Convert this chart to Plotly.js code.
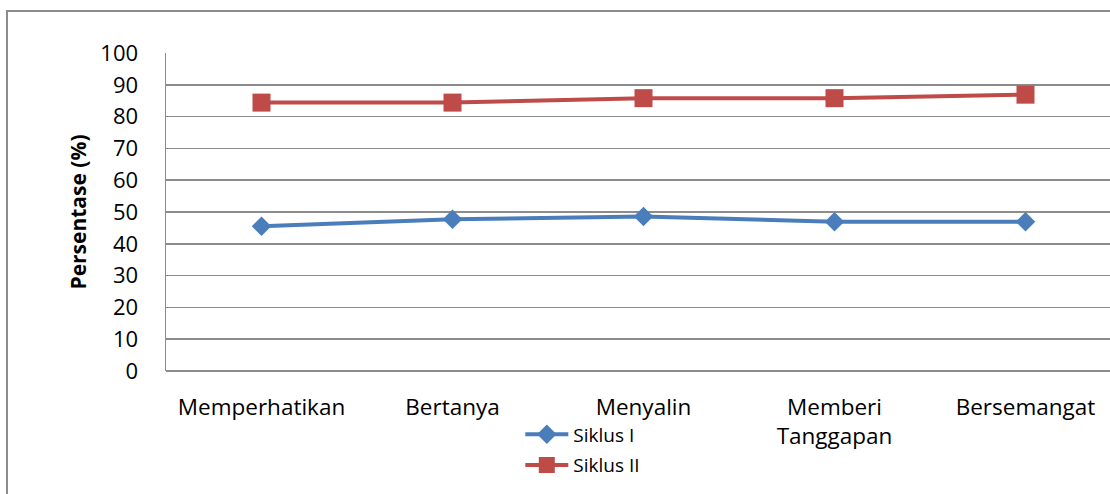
<!DOCTYPE html>
<html>
<head>
<meta charset="utf-8">
<script src="https://cdn.plot.ly/plotly-3.0.1.min.js"></script>
<style>
  html, body { margin: 0; padding: 0; background: #fff; overflow: hidden; width: 1110px; height: 494px; }
  #frame { position: absolute; left: 6px; top: 10px; width: 1200px; height: 600px; border: 2px solid #8c8c8c; box-sizing: border-box; }
  #chart { position: absolute; left: 0; top: 0; width: 1140px; height: 494px; }
</style>
</head>
<body>
<div id="frame"></div>
<div id="chart"></div>
<script>
const categories = ["Memperhatikan", "Bertanya", "Menyalin", "Memberi<br>Tanggapan", "Bersemangat"];
const siklusI = [45.5, 47.7, 48.6, 46.9, 46.9];
const siklusII = [84.4, 84.4, 85.8, 85.8, 86.9];
const yTicks = [0, 10, 20, 30, 40, 50, 60, 70, 80, 90, 100];

const font = "'Open Sans', Lato, 'Liberation Sans', sans-serif";

const traces = [
  {
    x: categories, y: siklusI, name: "Siklus I", type: "scatter", mode: "lines+markers",
    legendgroup: "a",
    line: { color: "#4a7ebb", width: 4 },
    marker: { symbol: "diamond", size: 15, color: "#4a7ebb" }
  },
  {
    x: categories, y: siklusII, name: "Siklus II", type: "scatter", mode: "lines+markers",
    legendgroup: "b",
    line: { color: "#be4b48", width: 4 },
    marker: { symbol: "square", size: 18, color: "#be4b48" }
  }
];

const layout = {
  width: 1140, height: 494,
  margin: { l: 166, r: 19, t: 53, b: 123, autoexpand: false },
  paper_bgcolor: "rgba(0,0,0,0)",
  plot_bgcolor: "#fff",
  font: { family: font, size: 22, color: "#000" },
  showlegend: true,
  legend: {
    x: 0.371, xanchor: "left", y: -0.14, yanchor: "top",
    font: { family: font, size: 19, color: "#000" },
    bgcolor: "rgba(0,0,0,0)", traceorder: "grouped", tracegroupgap: 3,
    itemwidth: 43
  },
  xaxis: {
    type: "category", range: [-0.5, 4.5], automargin: false,
    showgrid: false, showline: false, zeroline: false,
    ticks: "", ticklabelstandoff: 20,
    tickfont: { family: font, size: 22.5 }
  },
  yaxis: {
    range: [0, 100], tickvals: yTicks, ticktext: yTicks.map(String), automargin: false,
    showgrid: true, gridcolor: "#8c8c8c", gridwidth: 1.5,
    showline: true, linecolor: "#8c8c8c", linewidth: 1.5, mirror: false,
    zeroline: true, zerolinecolor: "#8c8c8c", zerolinewidth: 1.5,
    ticks: "", ticklabelstandoff: 22,
    tickfont: { family: font, size: 22 },
    title: { text: "<b>Persentase (%)</b>", font: { family: font, size: 21 }, standoff: 8 }
  }
};

Plotly.newPlot("chart", traces, layout, { displayModeBar: false, staticPlot: true });
</script>
</body>
</html>
